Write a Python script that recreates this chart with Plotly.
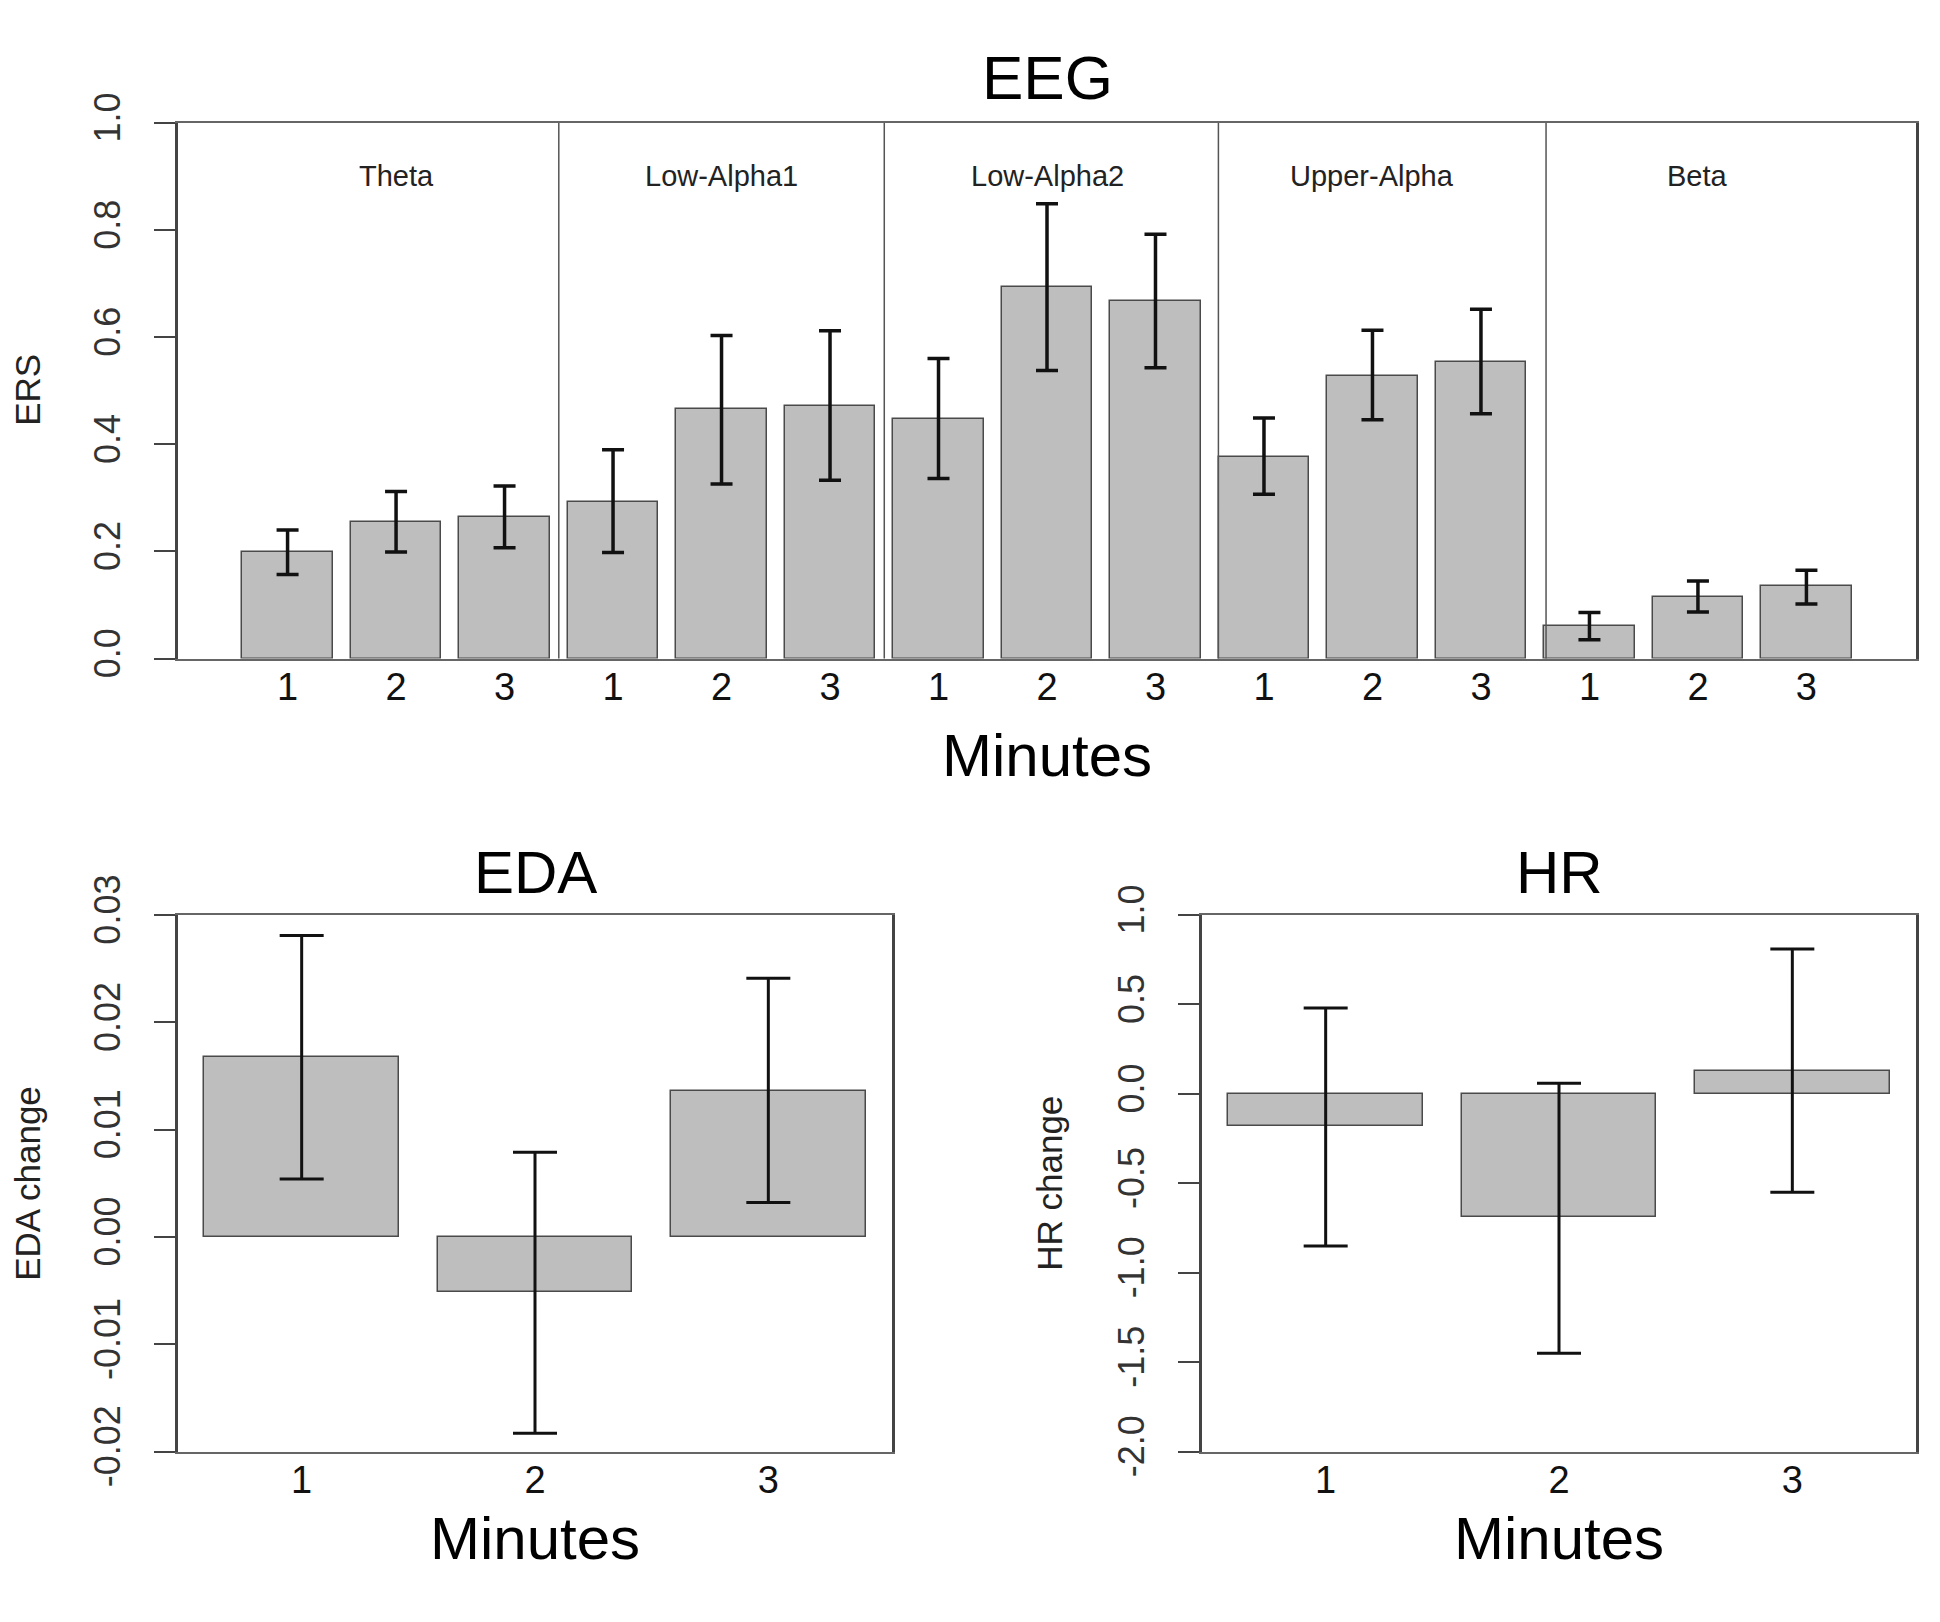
import plotly.graph_objects as go

# ---------------- data ----------------
bands = ["Theta", "Low-Alpha1", "Low-Alpha2", "Upper-Alpha", "Beta"]
minutes = ["1", "2", "3"]

eeg_mean = [0.199, 0.255, 0.265, 0.293, 0.466, 0.472, 0.447, 0.693, 0.668,
            0.376, 0.528, 0.554, 0.061, 0.115, 0.135]
eeg_hi = [0.240, 0.312, 0.322, 0.390, 0.603, 0.612, 0.560, 0.849, 0.792,
          0.449, 0.613, 0.652, 0.086, 0.145, 0.165]
eeg_lo = [0.157, 0.199, 0.207, 0.198, 0.326, 0.333, 0.336, 0.538, 0.543,
          0.307, 0.446, 0.457, 0.035, 0.087, 0.102]

eda_mean = [0.0168, -0.0051, 0.0136]
eda_hi = [0.0281, 0.0079, 0.0241]
eda_lo = [0.0054, -0.0183, 0.0032]

hr_mean = [-0.18, -0.69, 0.13]
hr_hi = [0.48, 0.06, 0.81]
hr_lo = [-0.85, -1.45, -0.55]

eeg_yticks = [0.0, 0.2, 0.4, 0.6, 0.8, 1.0]
eeg_ytext = ["0.0", "0.2", "0.4", "0.6", "0.8", "1.0"]
eda_yticks = [-0.02, -0.01, 0.0, 0.01, 0.02, 0.03]
eda_ytext = ["-0.02", "-0.01", "0.00", "0.01", "0.02", "0.03"]
hr_yticks = [-2.0, -1.5, -1.0, -0.5, 0.0, 0.5, 1.0]
hr_ytext = ["-2.0", "-1.5", "-1.0", "-0.5", "0.0", "0.5", "1.0"]

# ---------------- layout constants ----------------
W, H = 1940, 1622
FONT = "Liberation Sans, Arial, Helvetica, sans-serif"
BAR_FILL = "#bebebe"
BAR_LINE = "#4a4a4a"
BAR_W = 1 / 1.2
separators = [2.5, 5.5, 8.58, 11.6]


def px_x(p):
    return p / W


def px_y(p):
    return 1 - p / H


eeg_x = list(range(len(bands) * len(minutes)))
eeg_labels = minutes * len(bands)
small_x = list(range(len(minutes)))


def err(mean, hi, lo):
    up = [h - m for h, m in zip(hi, mean)]
    dn = [m - l for m, l in zip(mean, lo)]
    return up, dn


fig = go.Figure()

up, dn = err(eeg_mean, eeg_hi, eeg_lo)
fig.add_trace(go.Bar(
    x=eeg_x, y=eeg_mean, width=BAR_W, xaxis="x", yaxis="y",
    marker=dict(color=BAR_FILL, line=dict(color=BAR_LINE, width=1.5)),
    error_y=dict(type="data", symmetric=False, array=up, arrayminus=dn,
                 color="#111111", thickness=3.5, width=11),
    showlegend=False, hoverinfo="skip"))

up, dn = err(eda_mean, eda_hi, eda_lo)
fig.add_trace(go.Bar(
    x=small_x, y=eda_mean, width=BAR_W, xaxis="x2", yaxis="y2",
    marker=dict(color=BAR_FILL, line=dict(color=BAR_LINE, width=1.5)),
    error_y=dict(type="data", symmetric=False, array=up, arrayminus=dn,
                 color="#111111", thickness=3, width=22),
    showlegend=False, hoverinfo="skip"))

up, dn = err(hr_mean, hr_hi, hr_lo)
fig.add_trace(go.Bar(
    x=small_x, y=hr_mean, width=BAR_W, xaxis="x3", yaxis="y3",
    marker=dict(color=BAR_FILL, line=dict(color=BAR_LINE, width=1.5)),
    error_y=dict(type="data", symmetric=False, array=up, arrayminus=dn,
                 color="#111111", thickness=3, width=22),
    showlegend=False, hoverinfo="skip"))

xcommon = dict(showgrid=False, zeroline=False, ticks="", ticklen=0,
               showline=True, mirror=True, linecolor="#666666", linewidth=2,
               tickfont=dict(family=FONT, size=38, color="#111111"),
               ticklabelstandoff=-6, fixedrange=True)
ycommon = dict(showgrid=False, zeroline=False, ticks="outside", ticklen=21,
               tickwidth=2, tickcolor="#444444", showline=True, mirror=True,
               linecolor="#444444", linewidth=2.5, tickangle=-90,
               tickfont=dict(family=FONT, size=36, color="#333333"),
               ticklabelstandoff=20, fixedrange=True)

fig.update_layout(
    width=W, height=H,
    margin=dict(l=0, r=0, t=0, b=0),
    paper_bgcolor="white", plot_bgcolor="white",
    bargap=0,
    xaxis=dict(domain=[px_x(178), px_x(1916)], anchor="y",
               range=[-1.01, 15.01], tickmode="array", tickvals=eeg_x,
               ticktext=eeg_labels, **xcommon),
    yaxis=dict(domain=[px_y(649), px_y(87)], anchor="x", range=[0, 1],
               tickmode="array", tickvals=eeg_yticks, ticktext=eeg_ytext,
               **ycommon),
    xaxis2=dict(domain=[px_x(178), px_x(892)], anchor="y2",
                range=[-0.53, 2.53], tickmode="array", tickvals=small_x,
                ticktext=minutes, **xcommon),
    yaxis2=dict(domain=[px_y(1481), px_y(918)], anchor="x2",
                range=[-0.02, 0.03], tickmode="array", tickvals=eda_yticks,
                ticktext=eda_ytext, **ycommon),
    xaxis3=dict(domain=[px_x(1202), px_x(1916)], anchor="y3",
                range=[-0.53, 2.53], tickmode="array", tickvals=small_x,
                ticktext=minutes, **xcommon),
    yaxis3=dict(domain=[px_y(1481), px_y(918)], anchor="x3",
                range=[-2.0, 1.0], tickmode="array", tickvals=hr_yticks,
                ticktext=hr_ytext, **ycommon),
)

# separators between frequency bands
for s in separators:
    fig.add_shape(type="line", xref="x", yref="y domain", x0=s, x1=s,
                  y0=0, y1=1, line=dict(color="#555555", width=1.5))

# band labels
for i, b in enumerate(bands):
    fig.add_annotation(xref="x", yref="y", x=i * len(minutes) + 1, y=0.9,
                       text=b, showarrow=False,
                       font=dict(family=FONT, size=29, color="#222222"))


def ann(text, x, y, size, angle=0, color="#000000"):
    fig.add_annotation(xref="paper", yref="paper", x=px_x(x), y=px_y(y),
                       xanchor="center", yanchor="middle", text=text,
                       showarrow=False, textangle=angle,
                       font=dict(family=FONT, size=size, color=color))


ann("EEG", 1047, 39, 62)
ann("Minutes", 1047, 751, 60)
ann("ERS", 28, 367, 35, -90, "#222222")
ann("EDA", 535, 873, 60)
ann("HR", 1559, 873, 60)
ann("Minutes", 535, 1572, 60)
ann("Minutes", 1559, 1572, 60)
ann("EDA change", 28, 1200, 35, -90, "#222222")
ann("HR change", 1050, 1200, 35, -90, "#222222")

fig.write_html("out.html", config={"displayModeBar": False},
               post_script="document.body.style.margin='0';")
